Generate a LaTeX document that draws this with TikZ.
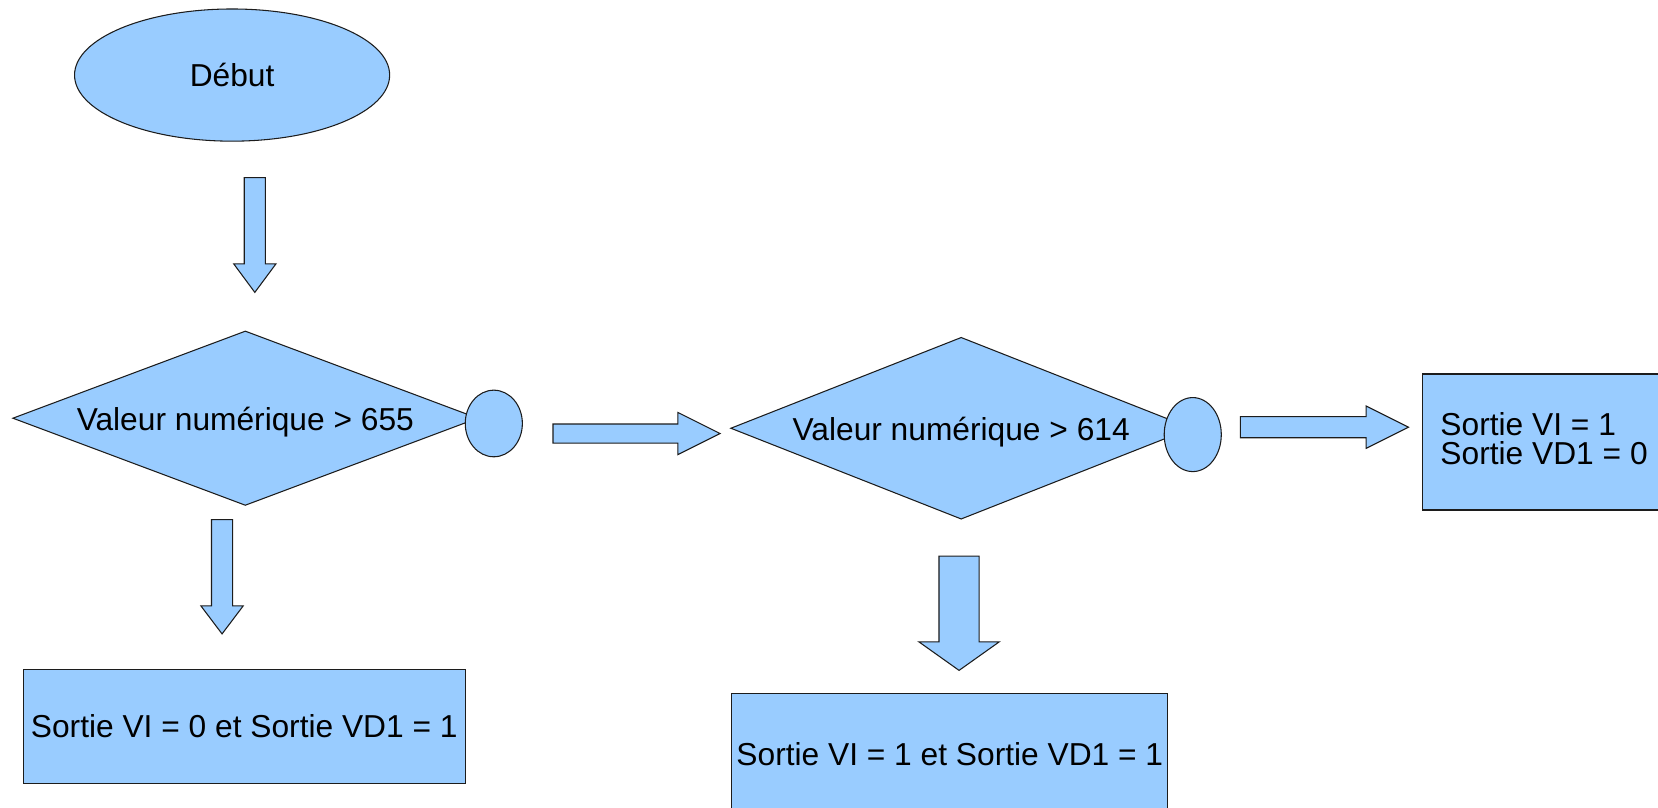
\documentclass[tikz,border=0pt]{standalone}
\usepackage{fontspec}
\setmainfont{Liberation Sans}
\usetikzlibrary{shapes.geometric}
\definecolor{flowfill}{HTML}{99CCFF}
\definecolor{flowline}{HTML}{1C1C1C}

% block arrow pointing down: centre x, shaft half width, head half width, top, head start, tip
\newcommand{\flowdown}[6]{%
  \draw[blockarrow] (#1-#2,#4) -- (#1+#2,#4) -- (#1+#2,#5) -- (#1+#3,#5)
    -- (#1,#6) -- (#1-#3,#5) -- (#1-#2,#5) -- cycle;}
% block arrow pointing right: centre y, shaft half width, head half width, left, head start, tip
\newcommand{\flowright}[6]{%
  \draw[blockarrow] (#4,#1-#2) -- (#5,#1-#2) -- (#5,#1-#3) -- (#6,#1)
    -- (#5,#1+#3) -- (#5,#1+#2) -- (#4,#1+#2) -- cycle;}

\begin{document}
\begin{tikzpicture}[x=0.5pt,y=-0.5pt,
  shapebase/.style={draw=flowline, fill=flowfill, line width=0.5pt, inner sep=0pt,
    font=\fontsize{15pt}{13.9pt}\selectfont},
  startnode/.style={shapebase, ellipse, minimum width=149pt, minimum height=62.5pt},
  testnode/.style={shapebase, diamond, aspect=2.6, text height=13pt, text depth=1.6pt},
  joint/.style={shapebase, ellipse},
  outbox/.style={shapebase, rectangle},
  blockarrow/.style={draw=flowline, fill=flowfill, line width=0.5pt, line join=miter}
]
\useasboundingbox (0,0) rectangle (1568,764);

% start
\node[startnode] (debut) at (219.5,71) {Début};
\flowdown{241}{10}{20}{168}{249.5}{276.5}

% first test
\node[testnode, minimum width=220pt, minimum height=82.5pt] (test1) at (232,395.5) {Valeur numérique > 655};
\node[joint, minimum width=27pt, minimum height=31.5pt] (j1) at (467,400.5) {};
\flowright{410}{9}{20}{523}{641}{681}
\flowdown{210}{10}{20}{491.5}{573}{599.5}
\node[outbox, minimum width=209pt, minimum height=54pt] (out1) at (231,687) {Sortie VI = 0 et Sortie VD1 = 1};

% second test
\node[testnode, minimum width=218pt, minimum height=86pt] (test2) at (909,405) {Valeur numérique > 614};
\node[joint, minimum width=27pt, minimum height=35pt] (j2) at (1128,411) {};
\flowright{404}{10}{20}{1173}{1292}{1332}
\node[outbox, minimum width=114.75pt, minimum height=64.3pt, align=left, text depth=3.5pt] (out3) at (1460.25,418) {Sortie VI = 1\\Sortie VD1 = 0};
\flowdown{907}{19}{38}{526}{607}{634}
\node[outbox, minimum width=206.25pt, minimum height=57.5pt] (out2) at (898.25,713) {Sortie VI = 1 et Sortie VD1 = 1};
\end{tikzpicture}
\end{document}
